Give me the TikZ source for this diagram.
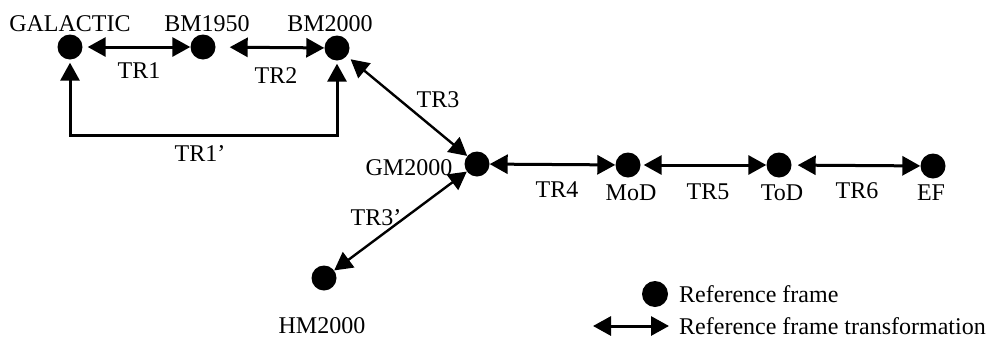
\documentclass[tikz,border=0pt]{standalone}
\usepackage{fontspec}
\setmainfont{Liberation Serif}
\usetikzlibrary{arrows.meta}
\begin{document}
\begin{tikzpicture}[x=1pt,y=-1pt,
  frame/.style={circle,fill=black,inner sep=0pt,minimum size=25pt},
  lbl/.style={anchor=base,inner sep=0pt,font=\fontsize{24}{28}\selectfont},
  tr/.style={line width=3pt,{Triangle[length=18pt,width=19pt]}-{Triangle[length=18pt,width=19pt]}},
  trd/.style={line width=2.4pt,{Triangle[length=18pt,width=19pt]}-{Triangle[length=18pt,width=19pt]}}
]
\useasboundingbox (0,0) rectangle (989,338);
% frames
\node[frame] (gal) at (70,47) {};
\node[frame] (bmA) at (203,47) {};
\node[frame] (bmB) at (337,48) {};
\node[frame] (gm) at (477,164) {};
\node[frame] (mod) at (628,165) {};
\node[frame] (tod) at (779,165) {};
\node[frame] (ef) at (933,166) {};
\node[frame] (hm) at (324,278) {};
\node[frame,minimum size=26pt] (legdot) at (655,294) {};
% labels
\node[lbl] (lgal) at (70,31) {GALACTIC};
\node[lbl] (lbmA) at (207,31) {BM1950};
\node[lbl] (lbmB) at (330,31) {BM2000};
\node[lbl] (ltrA) at (139,78) {TR1};
\node[lbl] (ltrB) at (276,83) {TR2};
\node[lbl] (ltrAp) at (200,161) {TR1’};
\node[lbl] (ltrC) at (438,107) {TR3};
\node[lbl] (lgm) at (409,175) {GM2000};
\node[lbl] (ltrD) at (557,197) {TR4};
\node[lbl] (lmod) at (631,200) {MoD};
\node[lbl] (ltrE) at (708,199) {TR5};
\node[lbl] (ltod) at (782,200) {ToD};
\node[lbl] (ltrF) at (857,198) {TR6};
\node[lbl] (lef) at (931,200) {EF};
\node[lbl] (ltrCp) at (376,225) {TR3’};
\node[lbl] (lhm) at (322,333) {HM2000};
\node[lbl,anchor=base west] (legA) at (679,302) {Reference frame};
\node[lbl,anchor=base west] (legB) at (679,334) {Reference frame transformation};
% connectors
\draw[tr,shorten <=5pt] (gal) -- (bmA);
\draw[tr,shorten <=14pt] (bmA) -- (bmB);
\coordinate (brk) at (200,135);
\draw[tr,miter limit=10,shorten <=3pt,shorten >=3pt] (gal) |- (brk) -| (bmB);
\draw[trd,shorten <=5pt] (bmB) -- (gm);
\draw[trd] (gm) -- (hm);
\draw[tr] (gm) -- (mod);
\draw[tr,shorten <=3pt] (mod) -- (tod);
\draw[tr,shorten <=6pt] (tod) -- (ef);
\coordinate (legL) at (593,326);
\coordinate (legR) at (669,326);
\draw[tr] (legL) -- (legR);
\end{tikzpicture}
\end{document}
